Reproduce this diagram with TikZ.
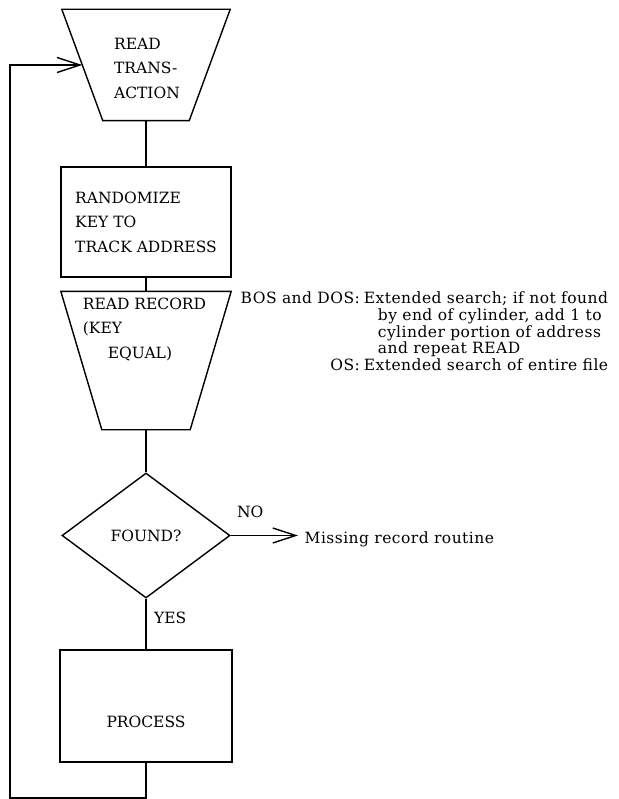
\documentclass[tikz,border=0pt]{standalone}
\usepackage{fontspec}
\setmainfont{DejaVu Serif}
\newfontfamily\notefamily[LetterSpace=3]{DejaVu Serif}
\usetikzlibrary{shapes.geometric,arrows.meta}

\newcommand{\boxfont}{\fontsize{15.5}{24.5}\selectfont}
\newcommand{\notefont}{\notefamily\fontsize{15.5}{16.5}\selectfont}

\begin{document}
\begin{tikzpicture}[x=1pt, y=-1pt, line width=1.4pt,
        io/.style={rectangle, inner sep=0pt, align=left, font=\boxfont},
        box/.style={rectangle, draw, inner sep=0pt, align=left, font=\boxfont},
        test/.style={diamond, draw, inner sep=0pt, font=\boxfont},
        note/.style={inner sep=0pt, align=left, font=\notefont},
        flow/.style={-{Straight Barb[length=23pt, width=15pt]}}
    ]
        \useasboundingbox (0,0) rectangle (618,799);

        % Read transaction
        \node[io, minimum width=167pt, minimum height=110pt,
            label={[io, xshift=1pt, yshift=-3pt]center:READ\\TRANS-\\ACTION}] (readtx) at (146,65) {};
        \draw (readtx.north west) -- (readtx.north east) -- ([xshift=-41pt]readtx.south east) -- ([xshift=41pt]readtx.south west) -- cycle;

        % Randomize
        \node[box, minimum width=170pt, minimum height=110pt] (randkey) at (146,222) {RANDOMIZE\\KEY TO\\TRACK ADDRESS};

        % Read record
        \node[io, minimum width=169pt, minimum height=137pt,
            label={[io, xshift=-1.5pt, yshift=31.5pt]center:READ RECORD\\(KEY\\\hspace{25pt}EQUAL)}] (readrec) at (146,360.5) {};
        \draw (readrec.north west) -- (readrec.north east) -- ([xshift=-41pt]readrec.south east) -- ([xshift=41pt]readrec.south west) -- cycle;

        % Found?
        \node[test, minimum width=168pt, minimum height=125pt] (found) at (146,535.5) {FOUND?};

        % Process
        \node[box, minimum width=172pt, minimum height=112pt,
            label={[io, yshift=-16pt]center:PROCESS}] (process) at (146,706) {};

        % Connections
        \draw (readtx.south) -- (randkey.north);
        \draw (randkey.south) -- (readrec.north);
        \draw (readrec.south) -- (found.north);
        \draw (found.south) -- node[right=4pt, pos=0.385, font=\boxfont] {YES} (process.north);

        % No branch
        \node[note, anchor=base west, inner xsep=6pt] (missing) at (298,543.6) {Missing record routine};
        \draw[flow] (found.east) -- node[above=14pt, pos=0.29, font=\boxfont] {NO} (found.east -| missing.west);

        % Loop back
        \coordinate (loopbl) at (10,798);
        \coordinate (readin) at ([xshift=20.5pt]readtx.west);
        \draw[flow] (process.south) |- (loopbl) |- (readin);

        % Notes
        \node[note, anchor=base west] (bosdos) at (240,303.6) {\begin{tabular}[t]{@{}r@{\hspace{4pt}}l@{}}
            BOS and DOS: & Extended search; if not found\\
             & \hspace{14pt}by end of cylinder, add 1 to\\
             & \hspace{14pt}cylinder portion of address\\
             & \hspace{14pt}and repeat READ\\
            OS: & Extended search of entire file
        \end{tabular}};
\end{tikzpicture}
\end{document}
